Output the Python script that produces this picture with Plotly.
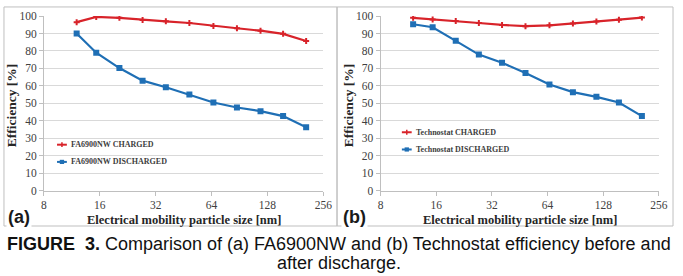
import plotly.graph_objects as go

W, H = 683, 276

sizes_nm = [12.0, 15.3, 20.4, 27.2, 36.3, 48.6, 65.5, 87.7, 117.5, 155.5, 207.0]
fa_charged = [96.5, 99.5, 99.0, 97.8, 97.0, 96.0, 94.3, 93.0, 91.6, 89.8, 85.7]
fa_discharged = [90.0, 79.0, 70.2, 63.0, 59.2, 55.1, 50.5, 47.6, 45.5, 42.7, 36.3]
tn_charged = [99.0, 98.0, 97.1, 96.0, 94.9, 94.2, 94.7, 95.7, 96.9, 97.9, 99.1]
tn_discharged = [95.3, 93.6, 85.8, 77.9, 73.2, 67.4, 60.8, 56.4, 53.7, 50.5, 42.7]

x_ticks = [8, 16, 32, 64, 128, 256]
y_ticks = [0, 10, 20, 30, 40, 50, 60, 70, 80, 90, 100]

RED = "#D8232A"
BLUE = "#1F6FB5"
GRID = "#D9D9D9"
SERIF = "Liberation Serif"
SANS = "Liberation Sans"


def px(x):
    return x / W


def py(y):
    return 1 - y / H


fig = go.Figure()

panels = [
    ("x", "y", "FA6900NW", fa_charged, fa_discharged),
    ("x2", "y2", "Technostat", tn_charged, tn_discharged),
]
for xa, ya, name, ch, dis in panels:
    fig.add_trace(go.Scatter(x=sizes_nm, y=ch, xaxis=xa, yaxis=ya,
                             name=f"{name} CHARGED", mode="lines+markers",
                             line=dict(color=RED, width=2.2),
                             marker=dict(symbol="cross", size=5, color=RED)))
    fig.add_trace(go.Scatter(x=sizes_nm, y=dis, xaxis=xa, yaxis=ya,
                             name=f"{name} DISCHARGED", mode="lines+markers",
                             line=dict(color=BLUE, width=2.2),
                             marker=dict(symbol="square", size=6, color=BLUE)))

plot_top, plot_bot = 10.5, 193.0
dom_a = [px(41.7), px(326.0)]
dom_b = [px(384.3), px(667.7)]
ydom = [py(plot_bot), py(plot_top)]

xcommon = dict(type="log", range=[0.90309, 2.40824], tickvals=x_ticks,
               ticktext=[str(v) for v in x_ticks], showgrid=False,
               showline=True, linecolor="#BFBFBF", linewidth=1,
               ticks="outside", ticklen=4, tickcolor="#BFBFBF",
               tickfont=dict(family=SERIF, size=11.5, color="#404040"),
               zeroline=False)
ycommon = dict(range=[0, 100], tickvals=y_ticks, showgrid=True, gridcolor=GRID,
               gridwidth=1, showline=True, linecolor="#BFBFBF", linewidth=1,
               ticks="outside", ticklen=4, tickcolor="#BFBFBF",
               tickfont=dict(family=SERIF, size=11.5, color="#404040"),
               zeroline=False)

fig.update_layout(
    width=W, height=H, margin=dict(l=0, r=0, t=0, b=0),
    paper_bgcolor="white", plot_bgcolor="white",
    xaxis=dict(domain=dom_a, anchor="y", **xcommon),
    yaxis=dict(domain=ydom, anchor="x", **ycommon),
    xaxis2=dict(domain=dom_b, anchor="y2", **xcommon),
    yaxis2=dict(domain=ydom, anchor="x2", **ycommon),
    showlegend=False,
)

shapes = []
# panel frames
for x0, x1 in [(1, 340), (340, 682)]:
    shapes.append(dict(type="rect", xref="paper", yref="paper",
                       x0=px(x0), x1=px(x1), y0=py(230), y1=py(1),
                       line=dict(color="#BFBFBF", width=1), layer="below"))

ann = []
# manual legends (line sample + marker + label)
legend_items = [
    (55, 145, RED, "cross", "FA6900NW CHARGED"),
    (55, 163, BLUE, "square", "FA6900NW DISCHARGED"),
    (406, 132, RED, "cross", "Technostat CHARGED"),
    (406, 150, BLUE, "square", "Technostat DISCHARGED"),
]
for lx, ly, col, sym, label in legend_items:
    shapes.append(dict(type="line", xref="paper", yref="paper",
                       x0=px(lx), x1=px(lx + 10), y0=py(ly), y1=py(ly),
                       line=dict(color=col, width=2)))
    cx = lx + 5
    if sym == "square":
        shapes.append(dict(type="rect", xref="paper", yref="paper",
                           x0=px(cx - 2.2), x1=px(cx + 2.2), y0=py(ly + 2.2), y1=py(ly - 2.2),
                           line=dict(color=col, width=0), fillcolor=col))
    else:
        shapes.append(dict(type="line", xref="paper", yref="paper",
                           x0=px(cx), x1=px(cx), y0=py(ly + 2.5), y1=py(ly - 2.5),
                           line=dict(color=col, width=1.5)))
    ann.append(dict(x=px(lx + 12.5), y=py(ly), xref="paper", yref="paper",
                    text=f"<b>{label}</b>", showarrow=False,
                    font=dict(family=SERIF, size=8, color="#404040"),
                    xanchor="left", yanchor="middle"))

for cx, label, lx in [((41.7 + 326) / 2, "(a)", 3), ((384.3 + 667.7) / 2, "(b)", 344)]:
    ann.append(dict(x=px(cx), y=py(224), xref="paper", yref="paper",
                    text="<b>Electrical mobility particle size [nm]</b>", showarrow=False,
                    font=dict(family=SERIF, size=12.5, color="#262626"),
                    xanchor="center", yanchor="middle"))
    ann.append(dict(x=px(lx), y=py(221), xref="paper", yref="paper",
                    text=f"<b>{label}</b>", showarrow=False,
                    font=dict(family=SANS, size=18, color="#1a1a1a"),
                    xanchor="left", yanchor="middle", bgcolor="white"))
for xc in [9, 352]:
    ann.append(dict(x=px(xc), y=py(104), xref="paper", yref="paper",
                    text="<b>Efficiency [%]</b>", showarrow=False, textangle=-90,
                    font=dict(family=SERIF, size=13.5, color="#262626"),
                    xanchor="center", yanchor="middle"))
ann.append(dict(x=0.5, y=py(249), xref="paper", yref="paper",
                text="<b>FIGURE  3.</b> Comparison of (a) FA6900NW and (b) Technostat efficiency before and",
                showarrow=False, font=dict(family=SANS, size=18, color="#111111"),
                xanchor="center", yanchor="middle"))
ann.append(dict(x=0.5, y=py(269), xref="paper", yref="paper",
                text="after discharge.", showarrow=False,
                font=dict(family=SANS, size=18, color="#111111"),
                xanchor="center", yanchor="middle"))
fig.update_layout(annotations=ann, shapes=shapes)

fig.write_html("out.html")
